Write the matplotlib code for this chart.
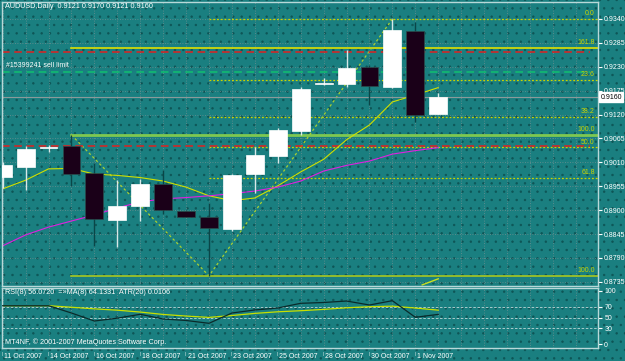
import numpy as np
import matplotlib
matplotlib.use('Agg')
import matplotlib.pyplot as plt
from matplotlib.patches import Rectangle

plt.rcParams['font.family'] = ['Liberation Sans', 'DejaVu Sans']

# daily AUDUSD bars
dates = ['11 Oct', '12 Oct', '14 Oct', '15 Oct', '16 Oct', '17 Oct', '18 Oct', '19 Oct', '21 Oct', '22 Oct',
         '23 Oct', '24 Oct', '25 Oct', '26 Oct', '28 Oct', '29 Oct', '30 Oct', '31 Oct', '1 Nov', '2 Nov']
opens = [0.8976, 0.8999, 0.9043, 0.9048, 0.8986, 0.8878, 0.8910, 0.8960, 0.8899, 0.8884,
         0.8857, 0.8983, 0.9025, 0.9083, 0.9190, 0.9190, 0.9230, 0.9184, 0.9313, 0.9121]
highs = [0.9010, 0.9048, 0.9050, 0.9073, 0.9009, 0.8970, 0.8972, 0.8993, 0.8900, 0.8917,
         0.8983, 0.9046, 0.9089, 0.9184, 0.9204, 0.9269, 0.9234, 0.9340, 0.9333, 0.9170]
lows = [0.8950, 0.8946, 0.9034, 0.8956, 0.8818, 0.8815, 0.8876, 0.8891, 0.8884, 0.8749,
        0.8852, 0.8940, 0.9009, 0.9073, 0.9188, 0.9184, 0.9142, 0.9181, 0.9104, 0.9121]
closes = [0.9004, 0.9041, 0.9045, 0.8984, 0.8880, 0.8910, 0.8960, 0.8900, 0.8885, 0.8859,
          0.8981, 0.9027, 0.9085, 0.9179, 0.9192, 0.9226, 0.9186, 0.9315, 0.9120, 0.9160]
ma_fast = [0.8949, 0.8969, 0.8995, 0.8996, 0.8983, 0.8980, 0.8975, 0.8967, 0.8953, 0.8933,
           0.8922, 0.8928, 0.8956, 0.8988, 0.9017, 0.9062, 0.9096, 0.9149, 0.9165, 0.9182]
ma_slow = [0.8818, 0.8843, 0.8861, 0.8875, 0.8889, 0.8905, 0.8919, 0.8926, 0.8929, 0.8933,
           0.8938, 0.8944, 0.8953, 0.8967, 0.8990, 0.9003, 0.9013, 0.9029, 0.9037, 0.9044]
rsi = [72.4, 72.4, 72.4, 58.7, 43.7, 49.0, 56.3, 47.5, 44.7, 39.4,
       58.7, 64.4, 68.1, 76.9, 78.4, 81.2, 73.7, 81.8, 50.7, 56.1]
rsi_ma = [72.4, 72.4, 72.4, 69.5, 66.5, 64.0, 60.5, 56.0, 53.0, 50.5,
          54.0, 58.0, 61.0, 63.0, 65.5, 68.5, 70.5, 71.5, 68.0, 64.1]

# fibo retracement from the 22 Oct low to the 31 Oct high
fib_hi = 0.9340
fib_lo = 0.8749
fib_levels = [0.0, 23.6, 38.2, 50.0, 61.8]
# expansion lines drawn from 15 Oct
exp_prices = [0.9273, 0.9073, 0.8749]
exp_labels = ['161.8', '100.0', '100.0']
red_lines = [0.9264, 0.9047]
sell_limit = 0.9219
bid = 0.9160
price_ticks = [0.9340, 0.9285, 0.9230, 0.9175, 0.9120, 0.9065, 0.9010, 0.8955, 0.8900, 0.8845, 0.8790, 0.8735]

bg = '#1a7f80'
dark = '#1a0018'
fibc = '#c8d400'
fs = 5.0
W, H = 625, 361

fig = plt.figure(figsize=(W / 100, H / 100), dpi=100)
fig.patch.set_facecolor(bg)
plt.rcParams['hatch.linewidth'] = 0.5
fig.patches.append(Rectangle((0, 0), 1, 1, transform=fig.transFigure, facecolor=bg,
                             edgecolor='#0e5556', hatch='..', lw=0, zorder=-10))

ax = fig.add_axes([2 / W, 75 / H, 596 / W, 284 / H])
ax2 = fig.add_axes([2 / W, 13 / H, 596 / W, 60 / H])
n = len(dates)
x = np.arange(n)
xmax = 25.97
for a in (ax, ax2):
    a.set_facecolor('none')
    a.set_xlim(-0.03, xmax)
    for s in a.spines.values():
        s.set_color('#b8d8d8')
        s.set_linewidth(1)
    a.set_xticks([])
    a.tick_params(axis='y', colors='white', labelsize=fs, length=3, width=0.8, pad=1.5,
                  left=False, labelleft=False, right=True, labelright=True)
    for xv in range(26):
        a.axvline(xv, color='#6f8f90', lw=0.6, ls=(0, (1, 2)), zorder=0)

ax.set_ylim(0.87255, 0.9379)
ax.set_yticks(price_ticks)
ax.set_yticklabels(['%.4f' % p for p in price_ticks])
for p in price_ticks:
    ax.axhline(p, color='#6f8f90', lw=0.6, ls=(0, (1, 2)), zorder=0)

# chart objects
for lv in fib_levels:
    p = fib_hi - (fib_hi - fib_lo) * lv / 100
    ax.plot([9, xmax], [p, p], color=fibc, lw=0.9, ls=(0, (1.5, 1.5)), zorder=1)
    ax.text(25.83, p + 0.0004, '%.1f' % lv, color=fibc, fontsize=fs, ha='right', va='bottom')
for p, lab, c, lw in zip(exp_prices, exp_labels, ['#e0e000', '#7ec850', '#a8c820'], [1.2, 2.0, 1.2]):
    ax.plot([3, xmax], [p, p], color=c, lw=lw, zorder=1)
    ax.text(25.83, p + 0.0004, lab, color=fibc, fontsize=fs, ha='right', va='bottom')
ax.plot([3, 9, 17], [0.9073, fib_lo, fib_hi], color='#a8d030', lw=0.9, ls=(0, (2, 2)), zorder=1)
ax.plot([18.3, 19.0], [0.8728, 0.8742], color='#c8e020', lw=1, zorder=1)
for p in red_lines:
    ax.plot([-0.03, 25.6], [p, p], color='#e02020', lw=1.1, ls=(0, (5, 3)), zorder=1)
ax.plot([-0.03, 25.6], [sell_limit, sell_limit], color='#10c070', lw=1.1, ls=(0, (5, 3)), zorder=1)
ax.text(0.15, sell_limit + 0.0006, '#15399241 sell limit', color='white', fontsize=fs, va='bottom')
ax.axhline(bid, color='#8a9a9a', lw=0.8, zorder=1)

ax.plot(x, ma_fast, color='#d0e000', lw=0.8, zorder=2)
ax.plot(x, ma_slow, color='#e020e0', lw=0.8, zorder=2)

# candles
for i in range(n):
    up = closes[i] >= opens[i]
    ax.vlines(i, lows[i], highs[i], color='#d8e8e8' if up else '#0a4648', lw=1, zorder=3)
    b = min(opens[i], closes[i])
    h = max(abs(closes[i] - opens[i]), 0.00012)
    ax.bar(i, h, bottom=b, width=0.78, color='white' if up else dark,
           edgecolor='#2a4a4a' if not up else 'white', lw=0.5, zorder=4)

ax.text(1.004, bid, '0.9160', color='black', fontsize=fs, va='center', ha='left',
        transform=ax.get_yaxis_transform(), clip_on=False,
        bbox=dict(boxstyle='square,pad=0.2', fc='white', ec='white'))

# RSI window
ax2.set_ylim(-6.9, 105.6)
ax2.set_yticks([0, 30, 50, 70, 100])
for lv in [30, 50, 70]:
    ax2.axhline(lv, color='#c0d8d8', lw=0.6, ls=(0, (3, 2)), zorder=0)
ax2.plot(x, rsi_ma, color='#c8e000', lw=0.9, zorder=2)
ax2.plot(x, rsi, color='#0a2a2a', lw=0.9, zorder=3)

fig.text(5 / W, 1 - 7 / H, 'AUDUSD,Daily  0.9121 0.9170 0.9121 0.9160', color='white', fontsize=5.2, va='center')
fig.text(5 / W, 1 - 293 / H, 'RSI(8) 56.0720  =\u00bbMA(8) 64.1331  ATR(20) 0.0106', color='white',
         fontsize=5.2, va='center')
fig.text(5 / W, 1 - 342 / H, 'MT4NF, \u00a9 2001-2007 MetaQuotes Software Corp.', color='white',
         fontsize=5.2, va='center')

# date axis
for i in range(0, n, 2):
    px = 2 + (i + 0.03) * 596 / (xmax + 0.03)
    fig.text((px - 0.5) / W, 1 - 354 / H, '|', color='white', fontsize=3, va='center', ha='center')
    fig.text((px + 1.5) / W, 1 - 356 / H, dates[i] + ' 2007', color='white', fontsize=fs, va='center')

fig.savefig('out.png', dpi=100, facecolor=bg)
